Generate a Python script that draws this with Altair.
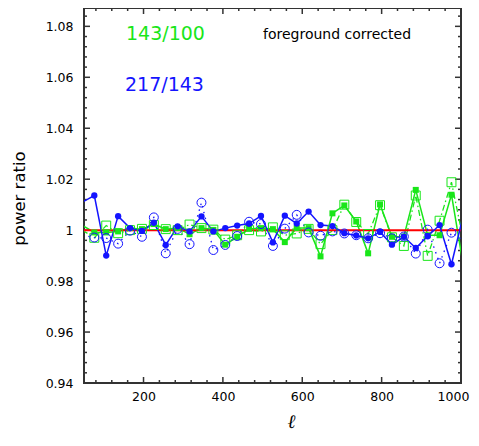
import altair as alt
import pandas as pd

# multipole bin centres (first and last lie just outside the plotted range)
ELL = [46, 76, 106, 136, 166, 196, 226, 256, 286, 316, 346, 376, 406, 436, 466, 496,
       526, 556, 586, 616, 646, 676, 706, 736, 766, 796, 826, 856, 886, 916, 946, 976, 1006]

# 217/143, solid line, filled circles
BLUE_SOLID = [1.011, 1.0136, 0.9900, 1.0055, 1.0008, 0.9997, 1.0029, 0.9942, 1.0015, 0.9995,
              1.0054, 0.9995, 1.0008, 1.0018, 1.0026, 1.0056, 0.9952, 1.0057, 1.0026, 1.0073,
              1.0020, 1.0016, 0.9988, 0.9979, 0.9968, 0.9993, 0.9943, 0.9974, 0.9930, 0.9976,
              1.0020, 0.9866, 1.006]
# 217/143, dotted line, open circles
BLUE_DOTTED = [0.998, 0.9971, 0.9969, 0.9947, 0.9998, 0.9974, 1.0050, 0.9909, 1.0005, 0.9945,
               1.0108, 0.9922, 0.9942, 0.9977, 1.0033, 1.0024, 0.9938, 1.0006, 1.0060, 0.9991,
               0.9978, 0.9995, 0.9987, 0.9980, 0.9968, 0.9988, 0.9968, 0.9975, 0.9908, 1.0002,
               0.9870, 0.9990, 0.996]
# 143/100, solid line, filled squares
GREEN_SOLID = [1.0018, 0.9991, 0.9991, 0.9995, 1.0008, 1.0004, 1.0024, 1.0004, 1.0008, 0.9984,
               1.0008, 1.0001, 0.9943, 0.9974, 1.0005, 1.0008, 1.0004, 0.9953, 1.0008, 1.0008,
               0.9897, 1.0066, 1.0097, 1.0034, 0.9909, 1.0101, 0.9974, 0.9975, 1.0158, 0.9980,
               0.9980, 1.0139, 0.986]
# 143/100, dash-dot line, open squares
GREEN_DASHDOT = [1.0, 0.9970, 1.0018, 0.9988, 1.0000, 1.0005, 1.0020, 1.0004, 1.0000, 1.0022,
                 1.0008, 1.0002, 0.9963, 0.9980, 1.0000, 0.9995, 1.0011, 0.9980, 0.9987, 1.0005,
                 0.9945, 1.0000, 1.0100, 1.0032, 0.9985, 1.0098, 0.9972, 0.9938, 1.0136, 0.9899,
                 1.0037, 1.0188, 0.996]

REFERENCE = [1.0]

X_LABELS = [200, 400, 600, 800, 1000]
X_MINOR = [80, 120, 160, 240, 280, 320, 360, 440, 480, 520, 560,
           640, 680, 720, 760, 840, 880, 920, 960]
Y_LABELS = [0.94, 0.96, 0.98, 1.0, 1.02, 1.04, 1.06, 1.08]
Y_MINOR = [0.944, 0.948, 0.952, 0.956, 0.964, 0.968, 0.972, 0.976, 0.984, 0.988, 0.992, 0.996,
           1.004, 1.008, 1.012, 1.016, 1.024, 1.028, 1.032, 1.036, 1.044, 1.048, 1.052, 1.056,
           1.064, 1.068, 1.072, 1.076, 1.084]

TXT_GREEN = ["143/100"]
TXT_BLUE = ["217/143"]
TXT_NOTE = ["foreground corrected"]

X_DOMAIN = [50, 1000]
Y_DOMAIN = [0.94, 1.0872]

W, H = 377, 375
GREEN = "#19e619"
BLUE = "#1414ff"
FRAME = "#333333"
FONT = "DejaVu Sans"

df = pd.DataFrame({"ell": ELL, "bs": BLUE_SOLID, "bd": BLUE_DOTTED,
                   "gs": GREEN_SOLID, "gd": GREEN_DASHDOT})

xs = alt.Scale(domain=X_DOMAIN, nice=False, zero=False)
ys = alt.Scale(domain=Y_DOMAIN, nice=False, zero=False)

x_axis = alt.Axis(values=X_LABELS, format="d", ticks=False, tickSize=0, domain=False, grid=False,
                  labelFont=FONT, labelFontSize=12.5, labelColor="black", labelPadding=7,
                  labelOverlap=False, labelBound=False, labelFlush=False,
                  labelOffset=alt.condition("datum.value == 1000", alt.value(-8), alt.value(0)),
                  title="ℓ", titleFont="DejaVu Serif", titleFontStyle="italic",
                  titleFontWeight="normal", titleFontSize=19, titleColor="black",
                  titleX=207, titleY=44, titleAlign="center", titleBaseline="alphabetic")
y_axis = alt.Axis(values=Y_LABELS, ticks=False, tickSize=0, domain=False, grid=False,
                  labelFont=FONT, labelFontSize=12.5, labelColor="black", labelPadding=11,
                  labelOverlap=False, labelBound=False, labelFlush=False,
                  labelExpr="datum.value == 1 ? '1' : format(datum.value, '.2f')",
                  title="power ratio", titleFont=FONT, titleFontWeight="normal",
                  titleFontSize=16.5, titleColor="black", titleAngle=270,
                  titleX=-65, titleY=190, titleAlign="center", titleBaseline="middle")


def X(field):
    return alt.X(field, scale=xs, axis=x_axis)


def Y(field):
    return alt.Y(field, scale=ys, axis=y_axis)


base = alt.Chart(df)
in_range = "datum.ell >= 50 && datum.ell <= 1000"

g_dd = base.mark_line(clip=True, color=GREEN, strokeWidth=1.3, strokeDash=[6, 3, 1.5, 3]).encode(
    x=X("ell:Q"), y=Y("gd:Q"))
g_s = base.mark_line(clip=True, color=GREEN, strokeWidth=1.5).encode(
    x=X("ell:Q"), y=Y("gs:Q"))
ref = alt.Chart(pd.DataFrame({"r": REFERENCE})).mark_rule(color="#ff0000", strokeWidth=2).encode(
    y=Y("r:Q"))
b_d = base.mark_line(clip=True, color=BLUE, strokeWidth=1.3, strokeDash=[1.5, 4.5]).encode(
    x=X("ell:Q"), y=Y("bd:Q"))
b_s = base.mark_line(clip=True, color=BLUE, strokeWidth=1.5).encode(
    x=X("ell:Q"), y=Y("bs:Q"))

g_open = base.mark_point(shape="square", filled=False, size=80, strokeWidth=1,
                         color=GREEN, opacity=1).encode(
    x=X("ell:Q"), y=Y("gd:Q")).transform_filter(in_range)
g_fill = base.mark_point(shape="square", filled=True, size=36, color=GREEN, opacity=1).encode(
    x=X("ell:Q"), y=Y("gs:Q")).transform_filter(in_range)
b_open = base.mark_point(shape="circle", filled=False, size=80, strokeWidth=1,
                         color=BLUE, opacity=1).encode(
    x=X("ell:Q"), y=Y("bd:Q")).transform_filter(in_range)
b_fill = base.mark_point(shape="circle", filled=True, size=40, color=BLUE, opacity=1).encode(
    x=X("ell:Q"), y=Y("bs:Q")).transform_filter(in_range)

# inward tick marks on all four sides
xt_major = pd.DataFrame({"v": X_LABELS})
xt_minor = pd.DataFrame({"v": X_MINOR})
yt_major = pd.DataFrame({"v": Y_LABELS})
yt_minor = pd.DataFrame({"v": Y_MINOR})


def xticks(d, length):
    bot = alt.Chart(d).mark_rule(color=FRAME, strokeWidth=1.5).encode(
        x=X("v:Q"), y=alt.value(H), y2=alt.value(H - length))
    top = alt.Chart(d).mark_rule(color=FRAME, strokeWidth=1.5).encode(
        x=X("v:Q"), y=alt.value(0), y2=alt.value(length))
    return [bot, top]


def yticks(d, length):
    left = alt.Chart(d).mark_rule(color=FRAME, strokeWidth=1.5).encode(
        y=Y("v:Q"), x=alt.value(0), x2=alt.value(length))
    right = alt.Chart(d).mark_rule(color=FRAME, strokeWidth=1.5).encode(
        y=Y("v:Q"), x=alt.value(W), x2=alt.value(W - length))
    return [left, right]


ticks = xticks(xt_major, 6) + xticks(xt_minor, 3) + yticks(yt_major, 6) + yticks(yt_minor, 3)

t_green = alt.Chart(pd.DataFrame({"t": TXT_GREEN})).mark_text(
    align="left", baseline="alphabetic", font=FONT, fontSize=19, color=GREEN).encode(
    text="t:N", x=alt.value(42), y=alt.value(32))
t_blue = alt.Chart(pd.DataFrame({"t": TXT_BLUE})).mark_text(
    align="left", baseline="alphabetic", font=FONT, fontSize=19, color=BLUE).encode(
    text="t:N", x=alt.value(41), y=alt.value(83))
t_note = alt.Chart(pd.DataFrame({"t": TXT_NOTE})).mark_text(
    align="left", baseline="alphabetic", font=FONT, fontSize=14, color="black").encode(
    text="t:N", x=alt.value(179), y=alt.value(31))

chart = alt.layer(
    *ticks, g_dd, g_s, ref, b_d, b_s, g_open, g_fill, b_open, b_fill,
    t_green, t_blue, t_note
).properties(
    width=W, height=H,
    autosize=alt.AutoSizeParams(type="none"),
    padding={"left": 76, "top": 0, "right": 10, "bottom": 50},
    background="white",
).configure_view(stroke=FRAME, strokeWidth=2)

chart.save("out.html", embed_options={"renderer": "svg", "actions": False})
